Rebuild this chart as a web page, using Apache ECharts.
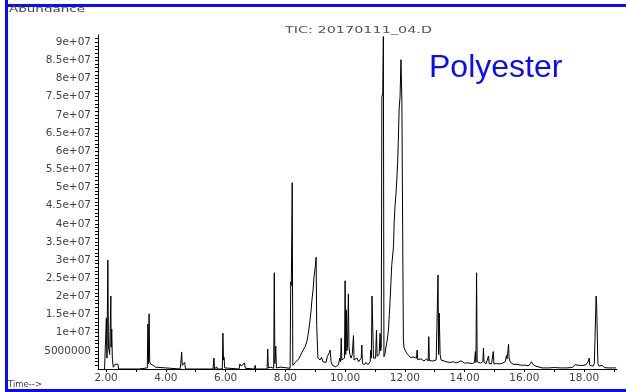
<!DOCTYPE html>
<html>
<head>
<meta charset="utf-8">
<script src="https://cdn.jsdelivr.net/npm/echarts@6/dist/echarts.min.js"></script>
<style>html,body{margin:0;padding:0;background:#fff}#c{width:626px;height:392px}</style>
</head>
<body>
<div id="c"></div>
<script>
// Retention time (min) / abundance pairs
const earlyTrace = [
  [1.95,0],[2.00,0.3e6],[2.01,14.1e6],[2.03,3e6],[2.06,30e6],[2.08,6e6],[2.10,5e6],[2.12,4e6],[2.16,20.1e6],[2.17,6e6],[2.19,11e6],[2.21,3e6],[2.24,0.5e6],[2.30,1.3e6],[2.40,1.3e6],[2.42,0],
  [2.74,0],[2.75,0.5e6],[2.76,0],[3.10,0],[3.12,0.4e6],[3.14,0],[3.38,0.3e6],[3.40,12.4e6],[3.42,1.5e6],[3.44,15.2e6],[3.46,2e6],[3.50,1.3e6],[3.58,1e6],[3.66,0.5e6],[3.70,0],
  [4.48,0],[4.50,1.5e6],[4.53,4.7e6],[4.55,1e6],[4.60,1.2e6],[4.63,1.8e6],[4.66,0],[5.58,0],[5.61,3.0e6],[5.63,0],[5.70,0.6e6],[5.72,0],[5.89,0],[5.91,9.9e6],[5.93,2.5e6],[5.95,3.2e6],[5.97,0.3e6],
  [6.45,0],[6.48,1.4e6],[6.53,0.8e6],[6.58,0.3e6],[6.63,1.7e6],[6.66,0.2e6],[6.97,0],[6.99,1.0e6],[7.01,0],[7.25,0],[7.27,0.4e6],[7.29,0],[7.39,0],[7.41,5.5e6],[7.43,0.3e6],[7.50,0.5e6],
  [7.61,0.2e6],[7.63,26.5e6],[7.65,1.5e6],[7.68,6.3e6],[7.70,0.3e6],[7.86,0.5e6],[7.88,0],[8.16,0.2e6],[8.18,24e6],[8.20,23e6],[8.23,51.3e6],[8.25,1e6],[8.29,0.8e6],[8.33,1.8e6],[8.36,1.5e6]
];
const middleTrace = [
  [8.39,2.0e6],[8.45,2.8e6],[8.49,3.3e6],[8.55,4.5e6],[8.60,4.2e6],[8.66,6.1e6],[8.72,7.5e6],[8.77,9.9e6],[8.82,13e6],[8.86,16e6],[8.89,19e6],[8.93,22e6],[8.96,25.4e6],[9.00,28e6],[9.03,30.8e6],
  [9.05,12e6],[9.07,11.7e6],[9.09,3.0e6],[9.16,2.5e6],[9.21,3.2e6],[9.26,2.0e6],[9.32,1.5e6],[9.36,1.8e6],[9.41,3.5e6],[9.43,3.0e6],[9.47,4.5e6],[9.50,5.2e6],[9.53,2.0e6],[9.58,1.0e6],[9.63,1.2e6],
  [9.68,0.6e6],[9.73,0.8e6],[9.78,1.2e6],[9.82,3e6],[9.85,2e6],[9.87,8.5e6],[9.89,2.5e6],[9.93,2.0e6],[9.98,3e6],[10.00,24.3e6],[10.02,4e6],[10.04,16.3e6],[10.06,5e6],[10.08,6e6],[10.11,20.7e6],
  [10.13,6e6],[10.16,4e6],[10.20,3e6],[10.24,4e6],[10.28,9.2e6],[10.30,2.5e6],[10.34,2e6],[10.40,3.0e6],[10.45,2e6],[10.50,1.8e6],[10.54,3e6],[10.56,6.6e6],[10.58,1.5e6],[10.65,1.2e6],[10.70,1.8e6],
  [10.76,1.2e6],[10.80,1.5e6],[10.84,2e6],[10.86,5.2e6],[10.88,3e6],[10.90,20.1e6],[10.93,20.1e6],[10.95,3e6],[10.99,2.5e6],[11.02,3e6],[11.05,10.7e6],[11.07,3.5e6],[11.10,3.0e6],[11.14,4e6],
  [11.17,9.8e6],[11.19,5e6],[11.21,6e6],[11.23,74.9e6],[11.26,76e6],[11.28,91.6e6],[11.30,3.4e6],[11.33,4e6],[11.37,6.1e6],[11.41,8e6],[11.45,10.7e6],[11.48,15e6],[11.51,19.5e6],[11.56,28.5e6],
  [11.62,33.7e6],[11.64,40e6],[11.67,44.7e6],[11.70,48e6],[11.73,52.1e6],[11.76,57e6],[11.78,62.7e6],[11.81,71.9e6],[11.84,75e6],[11.87,85.2e6],[11.90,74e6],[11.93,73.7e6],[11.95,8e6],[11.97,6e6]
];
const lateTrace = [
  [12.02,5e6],[12.06,4.4e6],[12.12,3.8e6],[12.18,3.2e6],[12.23,3.6e6],[12.28,3.3e6],[12.34,2.8e6],[12.39,3e6],[12.41,5.2e6],[12.43,2.6e6],[12.48,2.5e6],[12.54,2.8e6],[12.60,2.4e6],[12.64,2.2e6],
  [12.69,2.6e6],[12.73,2.8e6],[12.78,2.2e6],[12.80,8.9e6],[12.82,2.3e6],[12.88,2.3e6],[12.95,2.2e6],[13.00,2.4e6],[13.05,2.5e6],[13.09,3e6],[13.11,25.9e6],[13.13,4e6],[13.15,15.4e6],[13.18,4e6],
  [13.21,2.5e6],[13.25,2.6e6],[13.31,2.2e6],[13.38,2.0e6],[13.44,2.3e6],[13.51,1.8e6],[13.56,2.0e6],[13.62,2.0e6],[13.70,1.7e6],[13.78,1.8e6],[13.85,2.2e6],[13.92,2.1e6],[13.99,1.6e6],[14.07,1.7e6],
  [14.13,1.5e6],[14.18,1.6e6],[14.26,1.5e6],[14.33,1.8e6],[14.36,4.8e6],[14.38,1.8e6],[14.40,26.5e6],[14.42,2e6],[14.47,1.7e6],[14.52,1.6e6],[14.58,1.7e6],[14.61,2e6],[14.63,5.7e6],[14.65,1.8e6],
  [14.72,1.5e6],[14.78,1.6e6],[14.80,3.6e6],[14.82,1.5e6],[14.90,1.4e6],[14.94,1.6e6],[14.96,4.8e6],[14.98,1.4e6],[15.06,1.5e6],[15.12,1.5e6],[15.19,1.4e6],[15.26,1.6e6],[15.32,1.8e6],[15.36,2.0e6],
  [15.40,3.7e6],[15.42,2.8e6],[15.45,5e6],[15.47,6.8e6],[15.49,3.0e6],[15.52,2.0e6],[15.56,1.5e6],[15.62,1.3e6],[15.66,1.2e6],[15.72,1.3e6],[15.79,1.2e6],[15.86,1.1e6],[15.93,1.0e6],[16.01,1.1e6],
  [16.09,0.9e6],[16.16,1.0e6],[16.20,1.3e6],[16.24,2.0e6],[16.27,2.5e6],[16.30,1.2e6],[16.33,1.0e6],[16.38,0.8e6],[16.43,0.6e6],[16.60,0.3e6],[16.80,0.3e6],[17.00,0.4e6],[17.20,0.3e6],[17.40,0.3e6],
  [17.60,0.4e6],[17.66,0.6e6],[17.70,1.2e6],[17.76,1.1e6],[17.80,1.0e6],[17.87,1.0e6],[17.92,0.6e6],[17.96,1.0e6],[18.02,1.1e6],[18.07,1.2e6],[18.11,1.5e6],[18.14,2.2e6],[18.17,3.0e6],[18.19,1.0e6],
  [18.25,0.8e6],[18.30,0.8e6],[18.34,1.5e6],[18.36,7.1e6],[18.38,7.1e6],[18.40,20.1e6],[18.42,17.5e6],[18.44,17.0e6],[18.46,1.5e6],[18.50,0.8e6],[18.55,0.6e6],[18.60,1.0e6],[18.63,0.6e6],
  [18.68,0.4e6],[18.80,0.3e6],[18.94,0.3e6],[19.07,0.3e6]
];
const xTickValues = [2, 4, 6, 8, 10, 12, 14, 16, 18];
const xTickLabels = ['2.00', '4.00', '6.00', '8.00', '10.00', '12.00', '14.00', '16.00', '18.00'];
const yTickValues = [5e6, 1e7, 1.5e7, 2e7, 2.5e7, 3e7, 3.5e7, 4e7, 4.5e7, 5e7, 5.5e7, 6e7, 6.5e7, 7e7, 7.5e7, 8e7, 8.5e7, 9e7];
const yTickLabels = ['5000000', '1e+07', '1.5e+07', '2e+07', '2.5e+07', '3e+07', '3.5e+07', '4e+07', '4.5e+07', '5e+07', '5.5e+07', '6e+07', '6.5e+07', '7e+07', '7.5e+07', '8e+07', '8.5e+07', '9e+07'];
const chartTitle = 'TIC: 20170111_04.D';
const yAxisName = 'Abundance';
const xAxisName = 'Time-->';
const sampleName = 'Polyester';

const trace = earlyTrace.concat(middleTrace, lateTrace);
const xMinorTicks = [];
for (let t = 2; t <= 19; t += 1) xMinorTicks.push(t);
const yMinorTicks = [];
for (let v = 1e6; v <= 91e6; v += 1e6) yMinorTicks.push(v);

const blue = '#0a0aff';
const chart = echarts.init(document.getElementById('c'), null, {renderer: 'canvas'});
chart.setOption({
  animation: false,
  backgroundColor: '#ffffff',
  grid: {left: 98, right: 9, top: 35, bottom: 23},
  xAxis: {
    type: 'value', min: 1.73, max: 19.1,
    axisLine: {show: true, lineStyle: {color: '#000', width: 1}},
    axisTick: {show: true, length: 3, customValues: xMinorTicks, lineStyle: {color: '#000'}},
    axisLabel: {
      customValues: xTickValues, margin: 4, color: '#444', fontSize: 10.5, fontFamily: 'DejaVu Sans',
      formatter: v => xTickLabels[xTickValues.indexOf(v)]
    },
    splitLine: {show: false}
  },
  yAxis: {
    type: 'value', min: 0, max: 92e6,
    axisLine: {show: true, lineStyle: {color: '#000', width: 1}},
    axisTick: {show: true, length: 3, customValues: yMinorTicks, lineStyle: {color: '#000'}},
    axisLabel: {
      customValues: yTickValues, margin: 7, color: '#444', fontSize: 10.5, fontFamily: 'DejaVu Sans',
      formatter: v => yTickLabels[yTickValues.indexOf(v)]
    },
    splitLine: {show: false}
  },
  series: [{
    type: 'line', data: trace, showSymbol: false, symbol: 'none', sampling: 'none',
    lineStyle: {color: '#000', width: 1}, silent: true
  }],
  graphic: [
    {type: 'line', silent: true, shape: {x1: 6.5, y1: 0, x2: 6.5, y2: 392}, style: {stroke: blue, lineWidth: 3}},
    {type: 'line', silent: true, shape: {x1: 5, y1: 5.5, x2: 626, y2: 5.5}, style: {stroke: blue, lineWidth: 3}},
    {type: 'line', silent: true, shape: {x1: 5, y1: 390.5, x2: 626, y2: 390.5}, style: {stroke: blue, lineWidth: 3}},
    {type: 'text', silent: true, x: 9, y: 10, scaleX: 1.5,
      style: {text: yAxisName, fill: '#444', font: '9px "DejaVu Sans"', verticalAlign: 'middle'}},
    {type: 'text', silent: true, x: 8, y: 385, scaleX: 1.0,
      style: {text: xAxisName, fill: '#444', font: '8.5px "DejaVu Sans"', verticalAlign: 'middle'}},
    {type: 'text', silent: true, x: 285, y: 31, scaleX: 1.6,
      style: {text: chartTitle, fill: '#555', font: '9px "DejaVu Sans"', verticalAlign: 'middle'}},
    {type: 'text', silent: true, x: 429, y: 68,
      style: {text: sampleName, fill: blue, font: '32px "Liberation Sans"', verticalAlign: 'middle'}}
  ]
});
</script>
</body>
</html>
